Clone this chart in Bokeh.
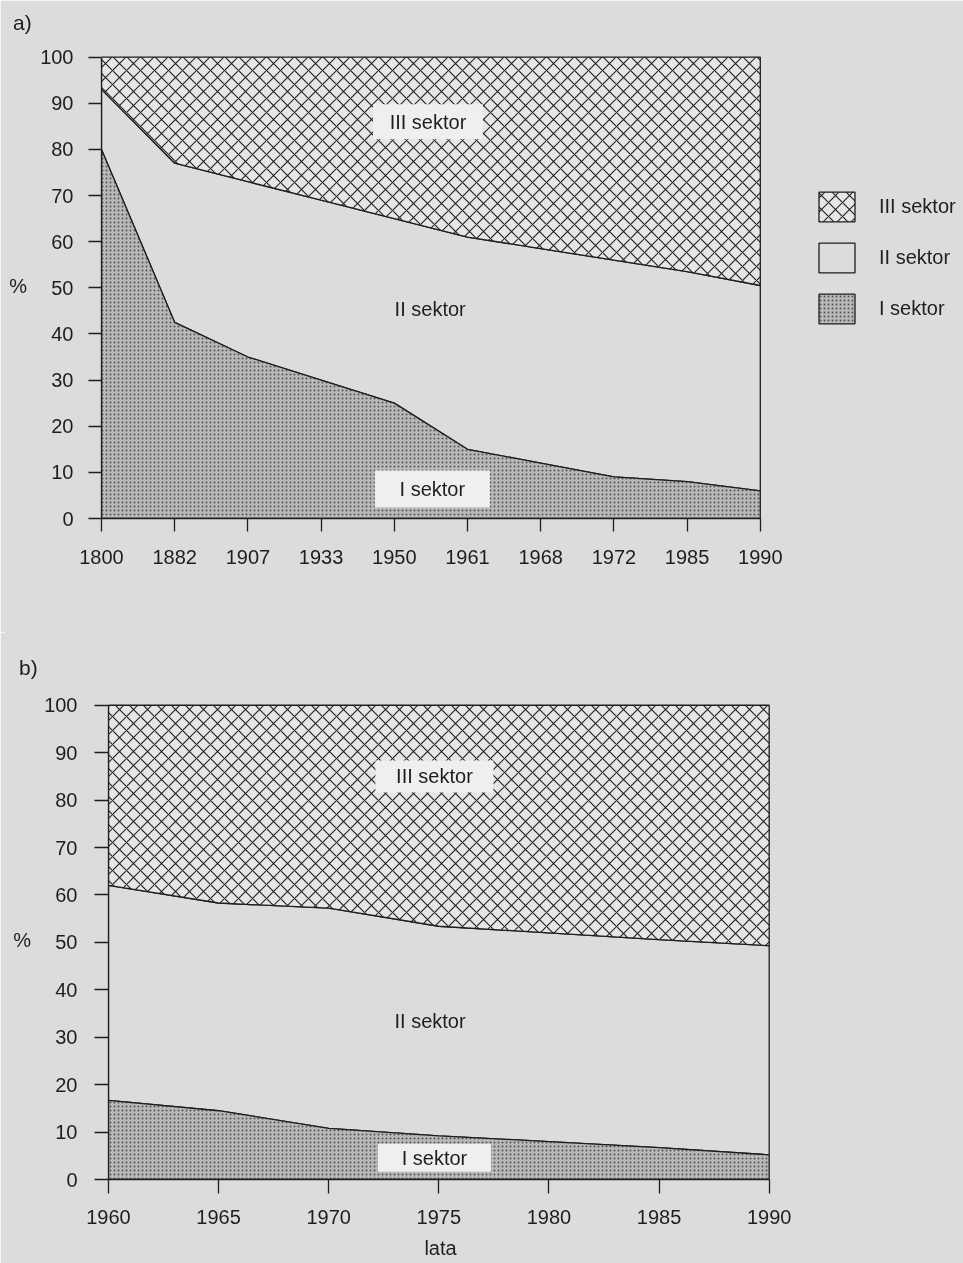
from bokeh.plotting import figure
from bokeh.models import Range1d, FixedTicker, Legend, LegendItem, Div
from bokeh.embed import file_html
from bokeh.resources import INLINE
from bokeh.core.properties import value

# ---------------- data ----------------
years_a = ["1800", "1882", "1907", "1933", "1950", "1961", "1968", "1972", "1985", "1990"]
sector_I_a = [80, 42.5, 35, 30, 25, 15, 12, 9, 8, 6]
sector_III_a = [7, 23, 27, 31, 35, 39, 41.5, 44, 46.5, 49.5]

years_b = [1960, 1965, 1970, 1975, 1980, 1985, 1990]
sector_I_b = [16.7, 14.5, 10.8, 9.2, 8.0, 6.7, 5.2]
sector_III_b = [38, 41.7, 42.8, 46.6, 48, 49.4, 50.7]

y_ticks = [0, 10, 20, 30, 40, 50, 60, 70, 80, 90, 100]
labels = ["I sektor", "II sektor", "III sektor"]

FONT = "Liberation Sans"
PAPER = "#dcdcdc"
INK = "#1e1e1e"
BOX = "#efefef"
W = 963


def shares(I, III):
    II = [100 - a - c for a, c in zip(I, III)]
    c1 = list(I)
    c2 = [a + b for a, b in zip(I, II)]
    c3 = [a + b + c for a, b, c in zip(I, II, III)]
    return c1, c2, c3


def draw_areas(p, x, I, III):
    c1, c2, c3 = shares(I, III)
    zero = [0] * len(x)
    xs = list(x) + list(x)[::-1]
    r2 = p.patch(xs, c2 + c1[::-1], fill_color=PAPER, line_color=INK, line_width=1.3)
    r1 = p.patch(xs, c1 + zero[::-1], fill_color="#b9b9b9", line_color=INK, line_width=1.3,
                 hatch_pattern="dot", hatch_scale=4, hatch_color="#555555", hatch_weight=1)
    r3 = p.patch(xs, c3 + c2[::-1], fill_color="#e6e6e6", line_color=INK, line_width=1.3,
                 hatch_pattern="diagonal_cross", hatch_scale=14, hatch_color="#262626", hatch_weight=1.2)
    return r1, r2, r3


def style(p, tick_out, std_y, std_x, fsize):
    p.background_fill_color = PAPER
    p.border_fill_color = PAPER
    p.outline_line_color = None
    p.xgrid.grid_line_color = None
    p.ygrid.grid_line_color = None
    for ax in (p.xaxis[0], p.yaxis[0]):
        ax.axis_line_color = INK
        ax.axis_line_width = 1.3
        ax.major_tick_line_color = INK
        ax.major_tick_line_width = 1.3
        ax.minor_tick_line_color = None
        ax.major_tick_in = 0
        ax.major_tick_out = tick_out
        ax.major_label_text_font = FONT
        ax.major_label_text_font_size = fsize
        ax.major_label_text_color = INK
        ax.axis_label_text_font = FONT
        ax.axis_label_text_font_size = fsize
        ax.axis_label_text_font_style = "normal"
        ax.axis_label_text_color = INK
    p.yaxis[0].major_label_standoff = std_y
    p.xaxis[0].major_label_standoff = std_x
    p.yaxis[0].ticker = FixedTicker(ticks=y_ticks)
    p.yaxis[0].bounds = (0, 100)
    p.yaxis[0].axis_label = "%"
    p.yaxis[0].axis_label_orientation = "horizontal"
    p.yaxis[0].axis_label_standoff = 10


def box_label(p, x, y, txt, w, h, fsize="20px"):
    if w:
        p.rect(x=[x], y=[y], width=w, height=h, width_units="screen", height_units="screen",
               fill_color=BOX, line_color=None)
    p.text(x=[x], y=[y], text=[txt], text_font=value(FONT), text_font_size=fsize,
           text_align="center", text_baseline="middle", text_color=INK)


def corner_label(txt, left, top):
    return Div(text=txt, styles={"position": "absolute", "left": f"{left}px", "top": f"{top}px",
                                 "font-family": FONT, "font-size": "21px", "color": INK,
                                 "line-height": "1", "z-index": "5"})


# ---------------- chart a ----------------
idx_a = list(range(len(years_a)))
left_a = 101
px_per_a = 73.2
pa = figure(width=W, height=632, output_backend="svg", toolbar_location=None,
            x_range=Range1d(0, (W - left_a) / px_per_a), y_range=Range1d(0, 101),
            min_border_left=left_a, min_border_right=0, min_border_top=52, min_border_bottom=114)
style(pa, 13, 15, 18, "20px")
pa.xaxis[0].ticker = FixedTicker(ticks=idx_a)
pa.xaxis[0].major_label_overrides = {i: y for i, y in zip(idx_a, years_a)}
pa.xaxis[0].bounds = (0, idx_a[-1])

r1, r2, r3 = draw_areas(pa, idx_a, sector_I_a, sector_III_a)
box_label(pa, 4.46, 86.0, "III sektor", 110, 35)
box_label(pa, 4.49, 45.5, "II sektor", 0, 0)
box_label(pa, 4.52, 6.4, "I sektor", 115, 37)

leg = Legend(items=[LegendItem(label=labels[2], renderers=[r3]),
                    LegendItem(label=labels[1], renderers=[r2]),
                    LegendItem(label=labels[0], renderers=[r1])],
             location=(713, 191), orientation="vertical",
             glyph_width=45, glyph_height=37, spacing=14, label_standoff=20,
             padding=0, margin=0, border_line_color=None, background_fill_alpha=0,
             label_text_font=FONT, label_text_font_size="20px", label_text_color=INK)
pa.add_layout(leg)

# ---------------- chart b ----------------
left_b = 108
px_per_b = 22.02
right_b = W - left_b - int(round((years_b[-1] - years_b[0] + 0.15) * px_per_b))
pb = figure(width=W, height=631, output_backend="svg", toolbar_location=None,
            x_range=Range1d(years_b[0], years_b[-1] + 0.15), y_range=Range1d(0, 101),
            min_border_left=left_b, min_border_right=right_b, min_border_top=68, min_border_bottom=84)
style(pb, 14, 17, 16, "20px")
pb.xaxis[0].ticker = FixedTicker(ticks=years_b)
pb.xaxis[0].bounds = (years_b[0], years_b[-1])
pb.xaxis[0].axis_label = "lata"
pb.xaxis[0].axis_label_standoff = 10

draw_areas(pb, years_b, sector_I_b, sector_III_b)
box_label(pb, 1974.8, 85.0, "III sektor", 118, 32)
box_label(pb, 1974.6, 33.5, "II sektor", 0, 0)
box_label(pb, 1974.8, 4.6, "I sektor", 113, 28)

lab_a = corner_label("a)", 8, 7)
lab_b = corner_label("b)", 14, 652)
backdrop = Div(text="", styles={"position": "fixed", "left": "0", "top": "0", "width": "100%",
                                "height": "100%", "background-color": PAPER, "z-index": "-1"})

open("out.html", "w").write(file_html([pa, pb, lab_a, lab_b, backdrop], INLINE))
